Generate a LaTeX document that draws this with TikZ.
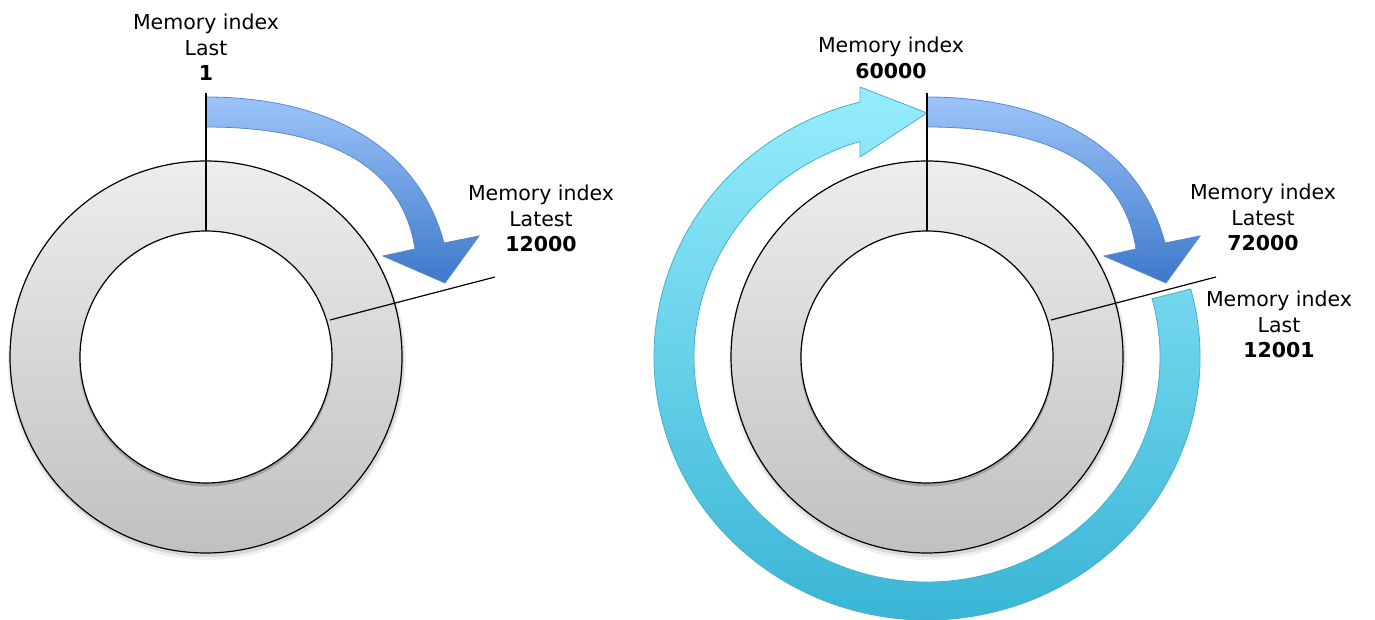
\documentclass[tikz,border=0pt]{standalone}
\usepackage{fontspec}
\setmainfont{DejaVu Sans}
\usetikzlibrary{calc}

\definecolor{ringtop}{HTML}{EDEDED}
\definecolor{ringbot}{HTML}{C0C0C0}
\definecolor{bluetop}{HTML}{9CC4F9}
\definecolor{bluebot}{HTML}{3C78CA}
\definecolor{blueedge}{HTML}{5A88CC}
\definecolor{cyantop}{HTML}{96EDFC}
\definecolor{cyanbot}{HTML}{35B2D4}
\definecolor{cyanedge}{HTML}{4AAFCB}

\tikzset{
  ringfill/.style={top color=ringtop, bottom color=ringbot, draw=black, line width=1.2pt},
  holefill/.style={fill=white, draw=black, line width=1.2pt},
  softshadow/.style={fill=black, opacity=0.10},
  bluearrow/.style={top color=bluetop, bottom color=bluebot, draw=blueedge, line width=0.8pt},
  cyanarrow/.style={top color=cyantop, bottom color=cyanbot, draw=cyanedge, line width=0.8pt},
  marker/.style={draw=black, line width=1.2pt},
  lbl/.style={align=center, inner sep=0pt, anchor=south,
              font=\fontsize{20.5}{25.5}\selectfont}
}

\begin{document}
\begin{tikzpicture}[x=1pt, y=1pt]
\useasboundingbox (0,0) rectangle (1375,620);

% ring centres
\coordinate (C1) at (206,263);
\coordinate (C2) at (927,263);

% ---------- left ring ----------
\fill[softshadow] ($(C1)+(1,-3)$) circle (197pt);
\fill[softshadow, opacity=0.06] ($(C1)+(1,-4)$) circle (199pt);
\shade[ringfill] (C1) circle (196pt);
\fill[softshadow, opacity=0.18] ($(C1)+(0,-2.5)$) circle (127pt);
\filldraw[holefill] (C1) circle (126pt);

% ---------- right ring ----------
\fill[softshadow] ($(C2)+(1,-3)$) circle (197pt);
\fill[softshadow, opacity=0.06] ($(C2)+(1,-4)$) circle (199pt);
\shade[ringfill] (C2) circle (196pt);
\fill[softshadow, opacity=0.18] ($(C2)+(0,-2.5)$) circle (127pt);
\filldraw[holefill] (C2) circle (126pt);

% ---------- wrap-around arrow (right) ----------
\coordinate (cyS) at ($(C2)+(15:273pt and 263pt)$);
\coordinate (cyBu) at (860,533);
\coordinate (cyTip) at (927,507);
\coordinate (cyBl) at (860,463);
\coordinate (cyE) at ($(C2)+(106.7:233pt and 225pt)$);
\fill[softshadow, opacity=0.08, shift={(1,-3)}]
  (cyS) arc[start angle=15, end angle=-255.8, x radius=273pt, y radius=263pt]
  -- (cyBu) -- (cyTip) -- (cyBl) -- (cyE)
  arc[start angle=106.7, end angle=375, x radius=233pt, y radius=225pt] -- cycle;
\shade[cyanarrow]
  (cyS) arc[start angle=15, end angle=-255.8, x radius=273pt, y radius=263pt]
  -- (cyBu) -- (cyTip) -- (cyBl) -- (cyE)
  arc[start angle=106.7, end angle=375, x radius=233pt, y radius=225pt] -- cycle;

% ---------- curved arrow (left) ----------
\coordinate (bLo0) at (206,523);
\coordinate (bLo1) at (444,377);
\coordinate (bLbr) at (479,384);
\coordinate (bLtip) at (445,337);
\coordinate (bLbl) at (383,364);
\coordinate (bLi1) at (415,371);
\coordinate (bLi0) at (206,493);
\shade[bluearrow] (bLo0) .. controls (315,523) and (416,482) .. (bLo1)
  -- (bLbr) -- (bLtip) -- (bLbl) -- (bLi1)
  .. controls (400,470) and (300,493) .. (bLi0) -- cycle;

% ---------- curved arrow (right) ----------
\coordinate (bRo0) at (927,523);
\coordinate (bRo1) at (1165,377);
\coordinate (bRbr) at (1200,384);
\coordinate (bRtip) at (1166,337);
\coordinate (bRbl) at (1104,364);
\coordinate (bRi1) at (1136,371);
\coordinate (bRi0) at (927,493);
\shade[bluearrow] (bRo0) .. controls (1036,523) and (1137,482) .. (bRo1)
  -- (bRbr) -- (bRtip) -- (bRbl) -- (bRi1)
  .. controls (1121,470) and (1021,493) .. (bRi0) -- cycle;

% ---------- index markers ----------
\coordinate (mL1a) at (206,527);
\coordinate (mL1b) at ($(C1)+(90:126pt)$);
\coordinate (mL2a) at (330,300);
\coordinate (mL2b) at (495,343);
\coordinate (mR1a) at (927,527);
\coordinate (mR1b) at ($(C2)+(90:126pt)$);
\coordinate (mR2a) at (1051,300);
\coordinate (mR2b) at (1216,343);
\draw[marker] (mL1a) -- (mL1b);
\draw[marker] (mL2a) -- (mL2b);
\draw[marker] (mR1a) -- (mR1b);
\draw[marker] (mR2a) -- (mR2b);

% ---------- labels ----------
\node[lbl] (tL1) at (206,539) {Memory index\\Last\\\textbf{1}};
\node[lbl] (tL2) at (541,368) {Memory index\\Latest\\\textbf{12000}};
\node[lbl] (tR1) at (891,541) {Memory index\\\textbf{60000}};
\node[lbl] (tR2) at (1263,369) {Memory index\\Latest\\\textbf{72000}};
\node[lbl] (tR3) at (1279,262) {Memory index\\Last\\\textbf{12001}};
\end{tikzpicture}
\end{document}
